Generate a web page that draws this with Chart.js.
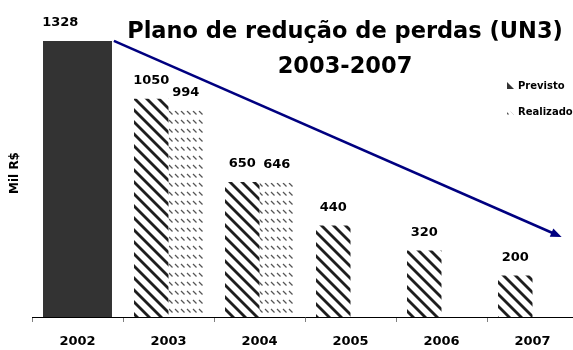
<!DOCTYPE html>
<html>
<head>
<meta charset="utf-8">
<script src="https://cdn.jsdelivr.net/npm/chart.js@4"></script>
<style>
html, body { margin: 0; padding: 0; background: #fff; overflow: hidden; }
</style>
</head>
<body>
<canvas id="grafico" width="578" height="350"></canvas>
<script>
const anos = ['2002', '2003', '2004', '2005', '2006', '2007'];
const base2002 = [1328, null, null, null, null, null];
const previsto = [null, 1050, 650, 440, 320, 200];
const realizado = [null, 994, 646, null, null, null];
const titulo = ['Plano de redução de perdas (UN3)', '2003-2007'];
const eixoY = 'Mil R$';
// seta de tendência: [índice da categoria, valor]
const seta = [[0.40, 1328], [5.32, 385]];

const fonte = "'DejaVu Sans', sans-serif";

// padrões de preenchimento (listras)
function padraoListras() {
    const c = document.createElement('canvas');
    c.width = 12; c.height = 12;
    const g = c.getContext('2d');
    g.fillStyle = '#fff';
    g.fillRect(0, 0, 12, 12);
    g.strokeStyle = '#1e1e1e';
    g.lineWidth = 2.8;
    [-12, 0, 12].forEach(o => {
        g.beginPath();
        g.moveTo(o - 3, -3);
        g.lineTo(o + 15, 15);
        g.stroke();
    });
    return g.createPattern(c, 'repeat');
}

function padraoTracos() {
    const c = document.createElement('canvas');
    c.width = 6; c.height = 9;
    const g = c.getContext('2d');
    g.fillStyle = '#fff';
    g.fillRect(0, 0, 6, 9);
    g.strokeStyle = '#555';
    g.lineWidth = 1.2;
    g.beginPath();
    g.moveTo(1, 3);
    g.lineTo(4.5, 6.5);
    g.stroke();
    return g.createPattern(c, 'repeat');
}

const corPrevisto = padraoListras();
const corRealizado = padraoTracos();

const extras = {
    id: 'extras',
    afterDatasetsDraw(chart) {
        const ctx = chart.ctx;
        ctx.save();
        ctx.fillStyle = '#000';
        ctx.font = 'bold 13px ' + fonte;
        ctx.textAlign = 'center';
        ctx.textBaseline = 'middle';
        chart.data.datasets.forEach((ds, i) => {
            const meta = chart.getDatasetMeta(i);
            meta.data.forEach((bar, j) => {
                const v = ds.data[j];
                if (v == null) return;
                let x = bar.x;
                if (i === 0) x = bar.x - bar.width / 4;
                ctx.fillText(String(v), x, bar.y - 18);
            });
        });
        ctx.restore();
    },
    afterDraw(chart) {
        const ctx = chart.ctx;
        const xs = chart.scales.x, ys = chart.scales.y;
        ctx.save();

        // seta
        const px = p => xs.getPixelForValue(p[0]);
        const x1 = px(seta[0]), y1 = ys.getPixelForValue(seta[0][1]);
        const x2 = px(seta[1]), y2 = ys.getPixelForValue(seta[1][1]);
        const ang = Math.atan2(y2 - y1, x2 - x1);
        ctx.strokeStyle = '#000080';
        ctx.fillStyle = '#000080';
        ctx.lineWidth = 2.5;
        ctx.beginPath();
        ctx.moveTo(x1, y1);
        ctx.lineTo(x2 - 8 * Math.cos(ang), y2 - 8 * Math.sin(ang));
        ctx.stroke();
        ctx.beginPath();
        ctx.moveTo(x2, y2);
        ctx.lineTo(x2 - 11 * Math.cos(ang) + 4.5 * Math.sin(ang), y2 - 11 * Math.sin(ang) - 4.5 * Math.cos(ang));
        ctx.lineTo(x2 - 11 * Math.cos(ang) - 4.5 * Math.sin(ang), y2 - 11 * Math.sin(ang) + 4.5 * Math.cos(ang));
        ctx.closePath();
        ctx.fill();

        // título
        ctx.fillStyle = '#000';
        ctx.textAlign = 'center';
        ctx.textBaseline = 'alphabetic';
        ctx.font = 'bold 22.5px ' + fonte;
        ctx.fillText(titulo[0], 345, 38);
        ctx.fillText(titulo[1], 345, 73);

        // legenda
        ctx.textAlign = 'left';
        ctx.textBaseline = 'middle';
        ctx.font = 'bold 10px ' + fonte;
        const itens = [[chart.data.datasets[1], 86, '#333'], [chart.data.datasets[2], 112, null]];
        itens.forEach(([ds, y, solido]) => {
            ctx.fillStyle = solido || ds.backgroundColor;
            ctx.beginPath();
            ctx.moveTo(507, y - 4);
            ctx.lineTo(507, y + 3);
            ctx.lineTo(514, y + 3);
            ctx.closePath();
            ctx.fill();
            ctx.fillStyle = '#000';
            ctx.fillText(ds.label, 518, y);
        });

        // título do eixo Y
        ctx.translate(15, 173);
        ctx.rotate(-Math.PI / 2);
        ctx.textAlign = 'center';
        ctx.font = 'bold 12px ' + fonte;
        ctx.fillText(eixoY, 0, 0);
        ctx.restore();
    }
};

new Chart(document.getElementById('grafico'), {
    type: 'bar',
    data: {
        labels: anos,
        datasets: [
            { label: '2002', data: base2002, backgroundColor: '#333333', grouped: false },
            { label: 'Previsto', data: previsto, backgroundColor: corPrevisto },
            { label: 'Realizado', data: realizado, backgroundColor: corRealizado }
        ]
    },
    options: {
        responsive: false,
        animation: false,
        categoryPercentage: 0.758,
        barPercentage: 1.0,
        borderWidth: 0,
        layout: { padding: { left: 32, right: 0, top: 0, bottom: 0 } },
        plugins: {
            legend: { display: false },
            tooltip: { enabled: false }
        },
        scales: {
            x: {
                grid: { drawOnChartArea: false, drawTicks: true, tickLength: 5, color: '#808080', offset: true },
                border: { display: true, color: '#000', width: 1 },
                ticks: { padding: 12, color: '#000', font: { family: fonte, size: 13, weight: 'bold' } },
                afterFit(scale) { scale.height = 33; }
            },
            y: { display: false, min: 0, max: 1525 }
        }
    },
    plugins: [extras]
});
</script>
</body>
</html>
